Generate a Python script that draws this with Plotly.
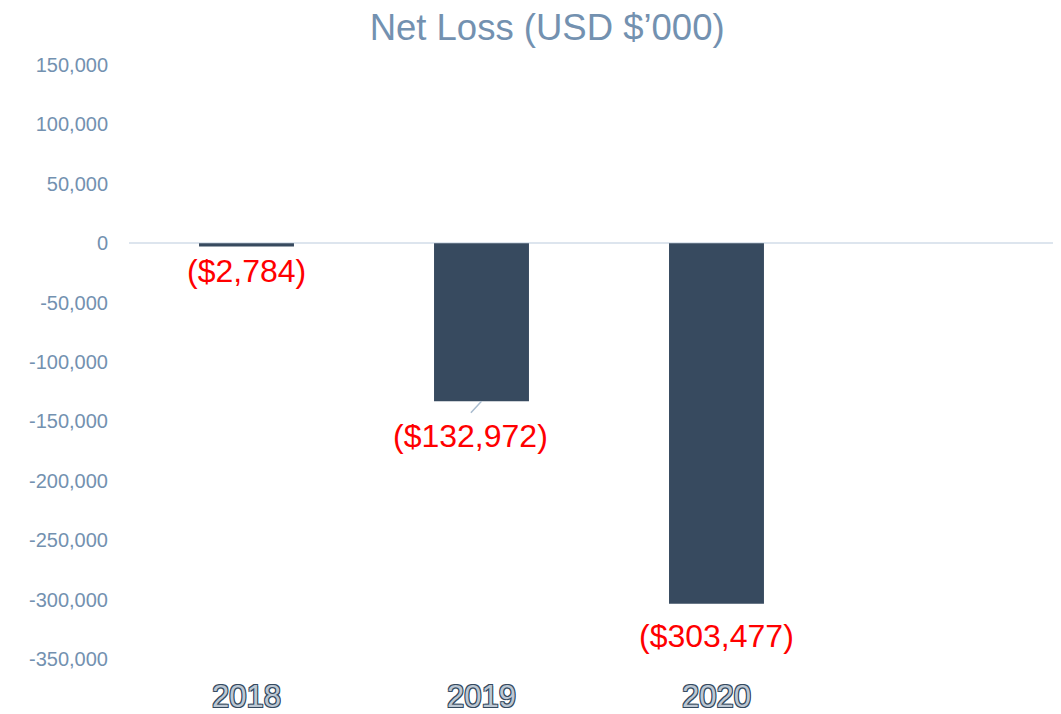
import plotly.graph_objects as go

years = ["2018", "2019", "2020"]
net_loss = [-2784, -132972, -303477]
y_ticks = [150000, 100000, 50000, 0, -50000, -100000, -150000, -200000, -250000, -300000, -350000]

x_idx = list(range(len(years)))

fig = go.Figure()
fig.add_trace(go.Bar(
    x=x_idx, y=net_loss, width=0.404,
    marker=dict(color="#374a5f", line=dict(width=0)),
    hoverinfo="skip",
))

label_font = dict(family="Liberation Sans, Arial", size=32, color="#ff0000")
label_texts = [f"(${abs(v):,})" for v in net_loss]
label_shift = [(0, 24), (-11, 35), (0, 32)]
for i, (v, t) in enumerate(zip(net_loss, label_texts)):
    dx, dy = label_shift[i]
    fig.add_annotation(x=x_idx[i], y=v, text=t, showarrow=False, xshift=dx, yshift=-dy,
                       yanchor="middle", font=label_font)

# leader line for the 2019 label
fig.add_annotation(x=x_idx[1], y=net_loss[1], text="", showarrow=True, arrowhead=0,
                   arrowwidth=1.5, arrowcolor="#a9bccf", ax=-12, ay=13, standoff=0)

outline = "#34495e"
fig.update_layout(
    width=1053, height=706,
    margin=dict(l=121, r=0, t=57, b=55, autoexpand=False),
    paper_bgcolor="white", plot_bgcolor="white",
    showlegend=False,
    title=dict(text="Net Loss (USD $’000)", x=0.512, xanchor="center", y=0.973, yanchor="middle",
               font=dict(family="Liberation Sans, Arial", size=36.5, color="#7391b0")),
    xaxis=dict(range=[-0.5, 3.466], tickvals=x_idx, ticktext=years, showgrid=False,
               zeroline=False, showline=False, ticks="", ticklabelstandoff=16, automargin=False,
               tickfont=dict(family="Liberation Sans, Arial", size=31, color="#bcc7d3",
                             shadow=f"-1px -1px 0 {outline}, 1px -1px 0 {outline}, -1px 1px 0 {outline}, 1px 1px 0 {outline}")),
    yaxis=dict(range=[-350000, 150000], tickvals=y_ticks, ticktext=[f"{v:,}" for v in y_ticks],
               showgrid=False, zeroline=True, zerolinecolor="#dde5ee", zerolinewidth=2,
               showline=False, ticks="", ticklabelstandoff=20, automargin=False,
               tickfont=dict(family="Liberation Sans, Arial", size=20, color="#7391b0")),
)

fig.write_html("out.html")
